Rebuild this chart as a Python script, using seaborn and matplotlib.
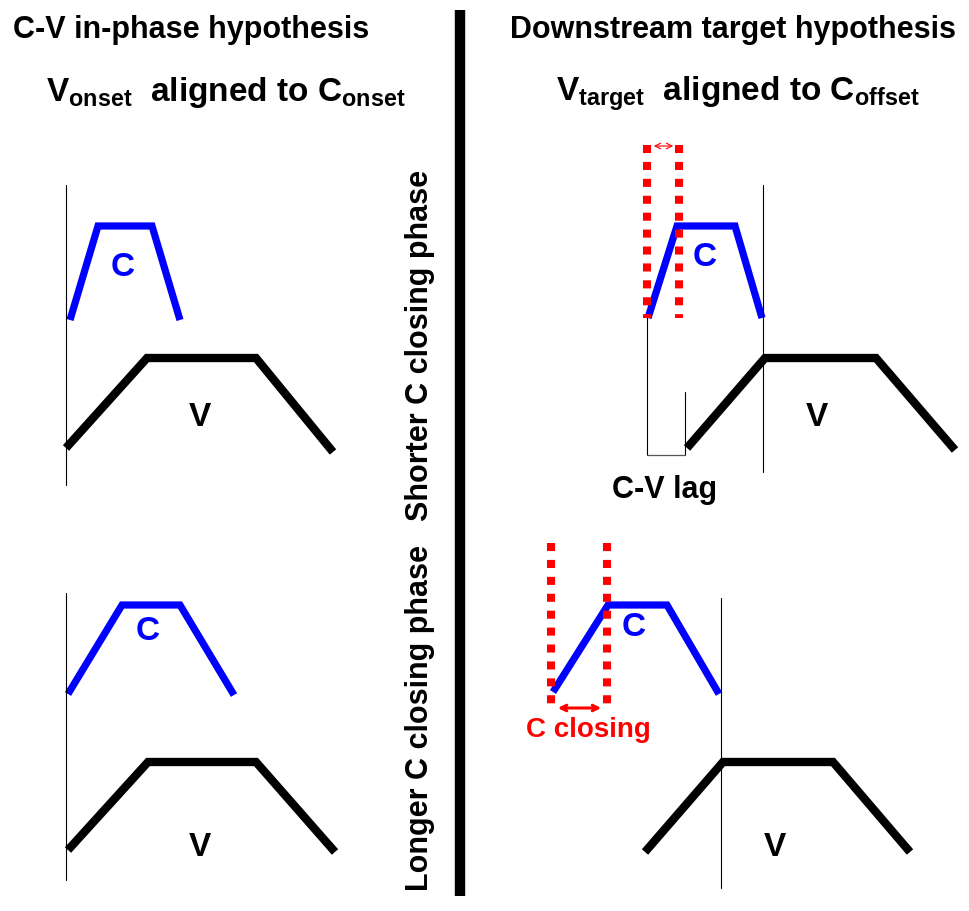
import matplotlib
matplotlib.use("Agg")
import matplotlib.pyplot as plt
import seaborn as sns
import pandas as pd

# Form der Kurven (Pixelkoordinaten der Vorlage)
lt_c_x = [70, 98, 152, 180]
lt_c_y = [320, 226, 226, 320]
lt_v_x = [66, 147, 256, 333]
lt_v_y = [448, 358, 358, 452]

lb_c_x = [68, 122, 180, 234]
lb_c_y = [694, 605, 605, 695]
lb_v_x = [68, 148, 256, 335]
lb_v_y = [850, 762, 762, 852]

rt_c_x = [648, 677, 735, 762]
rt_c_y = [318, 226, 226, 318]
rt_v_x = [687, 765, 876, 955]
rt_v_y = [448, 358, 358, 450]

rb_c_x = [553, 608, 667, 719]
rb_c_y = [692, 605, 605, 694]
rb_v_x = [645, 723, 833, 910]
rb_v_y = [852, 762, 762, 852]

# Hilfslinien: (x, y_oben, y_unten)
guide_lines = [(66, 185, 485), (66, 593, 880), (647, 315, 455),
               (763, 185, 472), (685, 392, 455), (721, 598, 888)]
red_dots = [(647, 145, 318), (679, 145, 318), (551, 543, 708), (607, 543, 708)]

sns.set_style("white")
plt.rcParams['font.family'] = ['Liberation Sans', 'DejaVu Sans']
plt.rcParams['font.weight'] = 'bold'
plt.rcParams['text.color'] = 'black'
plt.rcParams['mathtext.fontset'] = 'custom'
plt.rcParams['mathtext.bf'] = 'Liberation Sans:bold'
plt.rcParams['mathtext.rm'] = 'Liberation Sans:bold'
plt.rcParams['mathtext.default'] = 'bf'

fig = plt.figure(figsize=(9.7, 9.11), dpi=100)
ax = fig.add_axes([0, 0, 1, 1])
ax.set_xlim(0, 970)
ax.set_ylim(911, 0)
ax.axis('off')

def curve(xs, ys, color, lw):
    df = pd.DataFrame({'x': xs, 'y': ys})
    sns.lineplot(data=df, x='x', y='y', sort=False, color=color, lw=lw,
                 ax=ax, solid_joinstyle='miter', solid_capstyle='butt')

for xs, ys in [(lt_c_x, lt_c_y), (lb_c_x, lb_c_y), (rt_c_x, rt_c_y), (rb_c_x, rb_c_y)]:
    curve(xs, ys, '#0000ff', 5.2)
for xs, ys in [(lt_v_x, lt_v_y), (lb_v_x, lb_v_y), (rt_v_x, rt_v_y), (rb_v_x, rb_v_y)]:
    curve(xs, ys, 'black', 6.0)

for x, y0, y1 in guide_lines:
    ax.plot([x, x], [y0, y1], color='black', lw=0.8)
ax.plot([647, 685], [455, 455], color='#555555', lw=0.9)

for x, y0, y1 in red_dots:
    ax.plot([x, x], [y0, y1], color='red', lw=5.8, linestyle=(0, (1, 1.1)),
            dash_capstyle='butt')

ax.annotate('', xy=(651, 146), xytext=(676, 146),
            arrowprops=dict(arrowstyle='<->', color='red', lw=0.8))
ax.annotate('', xy=(555, 708), xytext=(604, 708),
            arrowprops=dict(arrowstyle='<->', color='red', lw=2.2))

# Trennlinie
ax.plot([460, 460], [10, 896], color='black', lw=7.5, solid_capstyle='butt')

# Beschriftungen
ax.text(191, 30, 'C-V in-phase hypothesis', fontsize=22, ha='center', va='center')
ax.text(226, 92, r'V$_{onset}$  aligned to C$_{onset}$', fontsize=24,
        ha='center', va='center')
ax.text(733, 30, 'Downstream target hypothesis', fontsize=22, ha='center', va='center')
ax.text(738, 94, r'V$_{target}$  aligned to C$_{offset}$', fontsize=24,
        ha='center', va='center')

ax.text(420, 345, 'Shorter C closing phase', fontsize=22, rotation=90,
        ha='center', va='center')
ax.text(420, 718, 'Longer C closing phase', fontsize=22, rotation=90,
        ha='center', va='center')

for x, y, s, c in [(123, 268, 'C', '#0000ff'), (148, 632, 'C', '#0000ff'),
                   (705, 258, 'C', '#0000ff'), (634, 628, 'C', '#0000ff'),
                   (200, 418, 'V', 'black'), (200, 848, 'V', 'black'),
                   (817, 418, 'V', 'black'), (775, 848, 'V', 'black')]:
    ax.text(x, y, s, fontsize=24, color=c, ha='center', va='center')

ax.text(665, 490, 'C-V lag', fontsize=22, ha='center', va='center')
ax.text(588, 730, 'C closing', fontsize=20, color='red', ha='center', va='center')

fig.savefig('out.png', dpi=100)
